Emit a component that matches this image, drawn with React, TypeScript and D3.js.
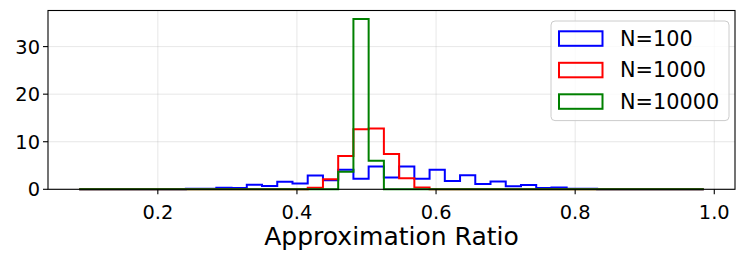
import React from 'react';
import * as d3 from 'd3';

// histogram bins (41 equal bins)
const binStart = 0.087;
const binWidth = 0.0219;
const binCount = 41;

// density values per bin
const n100 = [
  0, 0, 0, 0, 0, 0, 0, 0.14, 0.14, 0.35,
  0.28, 0.98, 0.7, 1.6, 1.2, 2.9, 1.9, 4.1, 2.2, 4.8,
  2.5, 4.8, 2.2, 4.1, 1.75, 2.95, 1.1, 1.65, 0.65, 0.9,
  0.28, 0.38, 0.14, 0.14, 0, 0, 0, 0, 0, 0, 0,
];
const n1000 = [
  0, 0, 0, 0, 0, 0, 0, 0, 0, 0,
  0, 0, 0, 0, 0, 0.3, 2.1, 7.0, 12.6, 12.8,
  7.4, 2.3, 0.4, 0, 0, 0, 0, 0, 0, 0,
  0, 0, 0, 0, 0, 0, 0, 0, 0, 0, 0,
];
const n10000 = [
  0, 0, 0, 0, 0, 0, 0, 0, 0, 0,
  0, 0, 0, 0, 0, 0, 0, 3.7, 35.8, 6.0,
  0, 0, 0, 0, 0, 0, 0, 0, 0, 0,
  0, 0, 0, 0, 0, 0, 0, 0, 0, 0, 0,
];

const seriesNames = ['N=100', 'N=1000', 'N=10000'];
const seriesColors = ['#0000ff', '#ff0000', '#008000'];
const xTicks = [0.2, 0.4, 0.6, 0.8, 1.0];
const yTicks = [0, 10, 20, 30];

const W = 747;
const H = 261;
const left = 48, right = 735, top = 10.5, bottom = 189.3;
const font = '"DejaVu Sans", sans-serif';

export default function App() {
  const edges = d3.range(binCount + 1).map(i => binStart + i * binWidth);
  const lo = edges[0], hi = edges[binCount];
  const pad = (hi - lo) * 0.05;
  const x = d3.scaleLinear().domain([lo - pad, hi + pad]).range([left, right]);
  const yMax = d3.max([...n100, ...n1000, ...n10000]) * 1.05;
  const y = d3.scaleLinear().domain([0, yMax]).range([bottom, top]);

  const stepPath = (vals: number[]) => {
    const pts: [number, number][] = [[edges[0], 0]];
    vals.forEach((v, i) => {
      pts.push([edges[i], v]);
      pts.push([edges[i + 1], v]);
    });
    pts.push([edges[binCount], 0]);
    return d3.line().x(d => x(d[0])).y(d => y(d[1]))(pts) as string;
  };

  const series = [n100, n1000, n10000];

  return (
    <svg width={W} height={H} style={{ position: 'absolute', left: 0, top: 0, display: 'block' }}>
      <rect x={0} y={0} width={W} height={H} fill="#fff" />
      {/* grid */}
      {xTicks.map(t => (
        <line key={'gx' + t} x1={x(t)} x2={x(t)} y1={top} y2={bottom} stroke="#b0b0b0" strokeOpacity={0.3} strokeWidth={1} />
      ))}
      {yTicks.map(t => (
        <line key={'gy' + t} x1={left} x2={right} y1={y(t)} y2={y(t)} stroke="#b0b0b0" strokeOpacity={0.3} strokeWidth={1} />
      ))}
      {/* histograms */}
      {series.map((s, i) => (
        <path key={i} d={stepPath(s)} fill="none" stroke={seriesColors[i]} strokeWidth={2} strokeLinejoin="miter" />
      ))}
      {/* spines */}
      <rect x={left} y={top} width={right - left} height={bottom - top} fill="none" stroke="#000" strokeWidth={1.1} />
      {/* x ticks */}
      {xTicks.map(t => (
        <g key={'xt' + t}>
          <line x1={x(t)} x2={x(t)} y1={bottom} y2={bottom + 5} stroke="#000" strokeWidth={1.1} />
          <text x={x(t)} y={218.5} textAnchor="middle" fontFamily={font} fontSize={19.4} fill="#000">
            {t.toFixed(1)}
          </text>
        </g>
      ))}
      {/* y ticks */}
      {yTicks.map(t => (
        <g key={'yt' + t}>
          <line x1={left - 5} x2={left} y1={y(t)} y2={y(t)} stroke="#000" strokeWidth={1.1} />
          <text x={left - 8} y={y(t)} dy="0.36em" textAnchor="end" fontFamily={font} fontSize={19.4} fill="#000">
            {t}
          </text>
        </g>
      ))}
      <text x={(left + right) / 2} y={245} textAnchor="middle" fontFamily={font} fontSize={25} fill="#000">
        Approximation Ratio
      </text>
      {/* legend */}
      <g>
        <rect x={551} y={21} width={178} height={99.6} rx={4} fill="#fff" fillOpacity={0.8} stroke="#cccccc" strokeWidth={1} />
        {seriesNames.map((name, i) => {
          const cy = 38.5 + i * 31.5;
          return (
            <g key={name}>
              <rect x={559} y={cy - 7.2} width={43.5} height={14.5} fill="none" stroke={seriesColors[i]} strokeWidth={2} />
              <text x={620} y={cy} dy="0.36em" fontFamily={font} fontSize={20.8} fill="#000">
                {name}
              </text>
            </g>
          );
        })}
      </g>
    </svg>
  );
}
